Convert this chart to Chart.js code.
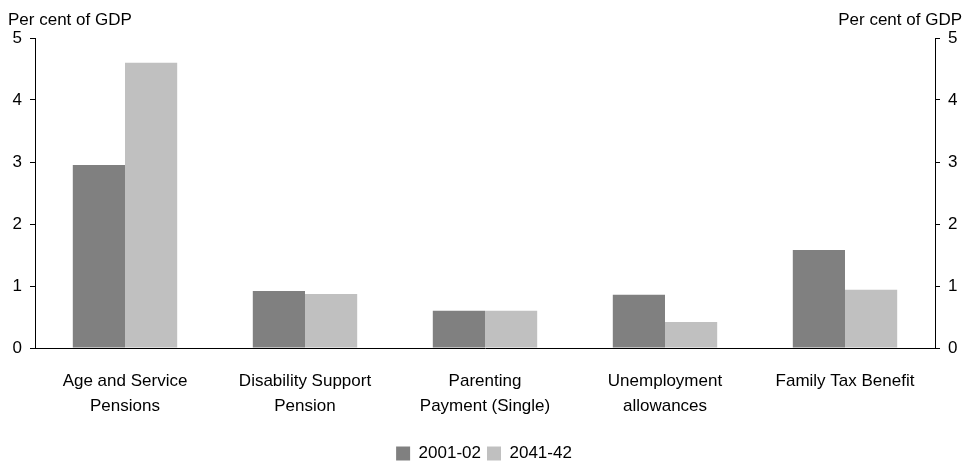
<!DOCTYPE html>
<html><head>
<script src="https://cdn.jsdelivr.net/npm/chart.js@4"></script>
<style>body{margin:0;background:#fff}#wrap{width:968px;height:464px}</style>
</head><body>
<div id="wrap"><canvas id="myChart"></canvas></div>
<script>
const categories = [['Age and Service', 'Pensions'], ['Disability Support', 'Pension'], ['Parenting', 'Payment (Single)'], ['Unemployment', 'allowances'], ['Family Tax Benefit']];
const values2001 = [2.95, 0.92, 0.6, 0.86, 1.58];
const values2041 = [4.6, 0.87, 0.6, 0.42, 0.94];
const seriesLabels = ['2001-02', '2041-42'];
const axisTitle = 'Per cent of GDP';

Chart.defaults.font.family = '"Liberation Sans", Arial, sans-serif';
Chart.defaults.font.size = 17;
Chart.defaults.color = '#000';

// Draw the unit labels above both y axes
const unitLabels = {
  id: 'unitLabels',
  afterDraw(chart) {
    const c = chart.ctx, a = chart.chartArea;
    c.save();
    c.font = '17px "Liberation Sans", Arial, sans-serif';
    c.fillStyle = '#000';
    c.textBaseline = 'bottom';
    c.textAlign = 'left';
    c.fillText(axisTitle, 8, a.top - 9);
    c.textAlign = 'right';
    c.fillText(axisTitle, 962, a.top - 9);
    c.restore();
  }
};

const ctx = document.getElementById('myChart');
new Chart(ctx, {
  type: 'bar',
  data: {
    labels: categories,
    datasets: [
      { label: seriesLabels[0], data: values2001, backgroundColor: '#808080' },
      { label: seriesLabels[1], data: values2041, backgroundColor: '#c0c0c0' }
    ]
  },
  options: {
    responsive: true,
    maintainAspectRatio: false,
    animation: false,
    barPercentage: 1,
    categoryPercentage: 0.58,
    layout: { padding: { top: 38, left: 0, right: 0, bottom: -8 } },
    plugins: {
      legend: {
        position: 'bottom',
        labels: { boxWidth: 14, boxHeight: 14, padding: 6 }
      },
      tooltip: { enabled: false }
    },
    scales: {
      x: {
        grid: { display: false },
        border: { color: '#000' },
        ticks: { maxRotation: 0, padding: 13, font: { lineHeight: 1.45 } },
        afterFit(s) { s.height = 91; }
      },
      y: {
        position: 'left',
        min: 0, max: 5,
        ticks: { stepSize: 1, padding: 8 },
        grid: { drawOnChartArea: false, tickLength: 5, color: '#000' },
        border: { color: '#000' },
        afterFit(s) { s.width = 35; }
      },
      y2: {
        position: 'right',
        min: 0, max: 5,
        ticks: { stepSize: 1, padding: 8 },
        grid: { drawOnChartArea: false, tickLength: 5, color: '#000' },
        border: { color: '#000' },
        afterFit(s) { s.width = 33; }
      }
    }
  },
  plugins: [unitLabels]
});
</script>
</body></html>
